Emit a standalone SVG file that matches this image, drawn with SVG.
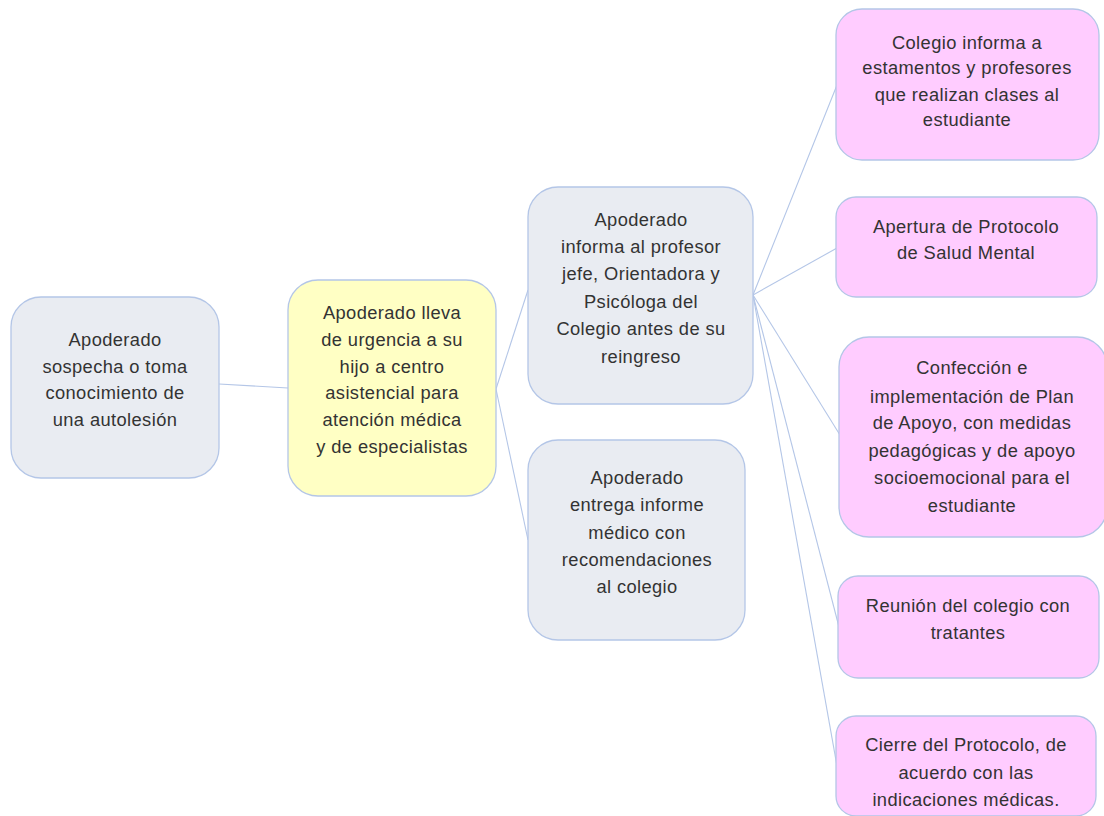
<svg xmlns="http://www.w3.org/2000/svg" width="1104" height="816" viewBox="0 0 1104 816">
<style>
.n{stroke:#b4c6e7;stroke-width:1.3}
.g{fill:#e9ecf2}
.y{fill:#ffffc4}
.p{fill:#ffccff}
.t{font-family:"Liberation Sans",Arial,sans-serif;font-size:18.3px;fill:#333;text-anchor:middle;letter-spacing:0.4px}
.c{stroke:#b4c6e7;stroke-width:1.1;fill:none}
</style>
<rect width="1104" height="816" fill="#fff"/>
<g id="connectors">
<line class="c" x1="219" y1="384" x2="288" y2="388"/>
<line class="c" x1="496" y1="389" x2="528" y2="290"/>
<line class="c" x1="496" y1="389" x2="528" y2="540"/>
<line class="c" x1="753" y1="295" x2="837" y2="85"/>
<line class="c" x1="753" y1="295" x2="837" y2="248"/>
<line class="c" x1="753" y1="295" x2="840" y2="435"/>
<line class="c" x1="753" y1="295" x2="839" y2="627"/>
<line class="c" x1="753" y1="295" x2="837" y2="766"/>
</g>
<g id="n1">
<rect class="n g" x="11" y="297" width="208" height="181" rx="30"/>
<text class="t"><tspan x="115" y="346">Apoderado</tspan><tspan x="115" y="373">sospecha o toma</tspan><tspan x="115" y="399">conocimiento de</tspan><tspan x="115" y="426">una autolesión</tspan></text>
</g>
<g id="n2">
<rect class="n y" x="288" y="280" width="208" height="216" rx="30"/>
<text class="t"><tspan x="392" y="319">Apoderado lleva</tspan><tspan x="392" y="346">de urgencia a su</tspan><tspan x="392" y="373">hijo a centro</tspan><tspan x="392" y="399">asistencial para</tspan><tspan x="392" y="426">atención médica</tspan><tspan x="392" y="453">y de especialistas</tspan></text>
</g>
<g id="n3">
<rect class="n g" x="528" y="187" width="225" height="217" rx="30"/>
<text class="t"><tspan x="641" y="226">Apoderado</tspan><tspan x="641" y="253">informa al profesor</tspan><tspan x="641" y="280">jefe, Orientadora y</tspan><tspan x="641" y="308">Psicóloga del</tspan><tspan x="641" y="335">Colegio antes de su</tspan><tspan x="641" y="363">reingreso</tspan></text>
</g>
<g id="n4">
<rect class="n g" x="528" y="440" width="217" height="200" rx="30"/>
<text class="t"><tspan x="637" y="484">Apoderado</tspan><tspan x="637" y="511">entrega informe</tspan><tspan x="637" y="539">médico con</tspan><tspan x="637" y="566">recomendaciones</tspan><tspan x="637" y="593">al colegio</tspan></text>
</g>
<g id="p1">
<rect class="n p" x="836" y="9" width="263" height="151" rx="26"/>
<text class="t"><tspan x="967" y="49">Colegio informa a</tspan><tspan x="967" y="74">estamentos y profesores</tspan><tspan x="967" y="101">que realizan clases al</tspan><tspan x="967" y="126">estudiante</tspan></text>
</g>
<g id="p2">
<rect class="n p" x="836" y="197" width="261" height="100" rx="20"/>
<text class="t"><tspan x="966" y="233">Apertura de Protocolo</tspan><tspan x="966" y="259">de Salud Mental</tspan></text>
</g>
<g id="p3">
<rect class="n p" x="839" y="337" width="268" height="200" rx="30"/>
<text class="t"><tspan x="972" y="374">Confección e</tspan><tspan x="972" y="403">implementación de Plan</tspan><tspan x="972" y="429">de Apoyo, con medidas</tspan><tspan x="972" y="457">pedagógicas y de apoyo</tspan><tspan x="972" y="484">socioemocional para el</tspan><tspan x="972" y="512">estudiante</tspan></text>
</g>
<g id="p4">
<rect class="n p" x="838" y="576" width="261" height="102" rx="20"/>
<text class="t"><tspan x="968" y="612">Reunión del colegio con</tspan><tspan x="968" y="639">tratantes</tspan></text>
</g>
<g id="p5">
<rect class="n p" x="836" y="716" width="260" height="100" rx="20"/>
<text class="t"><tspan x="966" y="751">Cierre del Protocolo, de</tspan><tspan x="966" y="779">acuerdo con las</tspan><tspan x="966" y="806">indicaciones médicas.</tspan></text>
</g>
</svg>
